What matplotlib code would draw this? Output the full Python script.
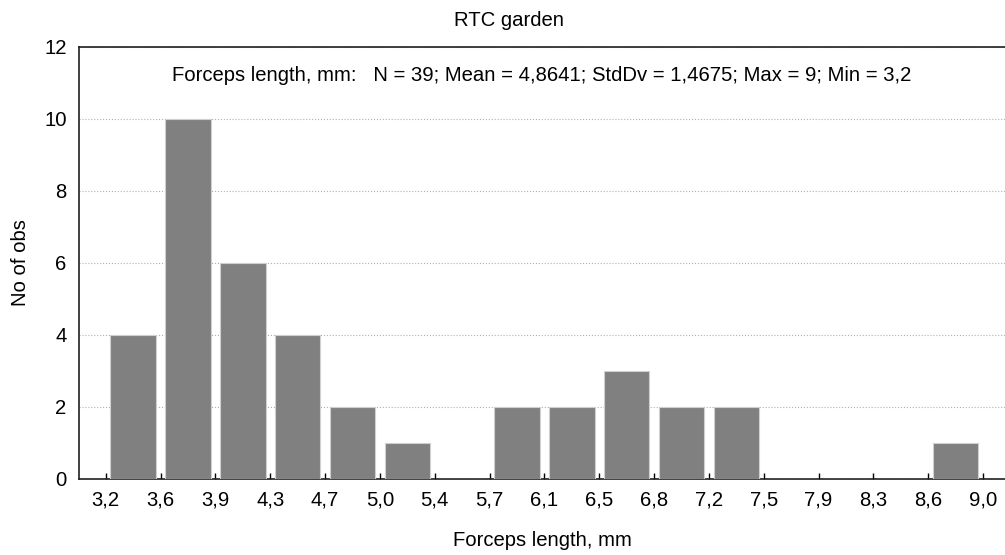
import numpy as np
import matplotlib
matplotlib.use('Agg')
from matplotlib import pyplot as plt

# bin edges (tick labels) and counts per bin
edges = ['3,2', '3,6', '3,9', '4,3', '4,7', '5,0', '5,4', '5,7', '6,1',
         '6,5', '6,8', '7,2', '7,5', '7,9', '8,3', '8,6', '9,0']
counts = [4, 10, 6, 4, 2, 1, 0, 2, 2, 3, 2, 2, 0, 0, 0, 1]
stats = 'Forceps length, mm:   N = 39; Mean = 4,8641; StdDv = 1,4675; Max = 9; Min = 3,2'

plt.rcParams['font.family'] = ['Liberation Sans', 'DejaVu Sans']
plt.rcParams['font.size'] = 14.6

fig = plt.figure(figsize=(10.05, 5.55), dpi=100)
ax = fig.add_axes([79 / 1005, 76 / 555, 926 / 1005, 432 / 555])

x = np.arange(len(counts)) + 0.5
ax.bar(x, counts, width=0.83, color='#808080', edgecolor='#d0d0d0', linewidth=0.8, zorder=3)

ax.set_xlim(-0.487, 16.4)
ax.set_ylim(0, 12)
ax.set_xticks(np.arange(len(edges)))
ax.set_xticklabels(edges)
ax.set_yticks(range(0, 13, 2))
ax.tick_params(axis='x', direction='in', length=4, pad=8, width=1)
ax.tick_params(axis='y', length=0, pad=9)
ax.yaxis.grid(True, linestyle=':', color='#b0b0b0', linewidth=0.8, zorder=0)

for s in ['left', 'bottom', 'top']:
    ax.spines[s].set_linewidth(1.2)
    ax.spines[s].set_color('#202020')
ax.spines['right'].set_visible(False)

ax.set_xlabel('Forceps length, mm', labelpad=16)
ax.set_ylabel('No of obs', labelpad=10)
fig.text(509 / 1005, 1 - 20 / 555, 'RTC garden', ha='center', va='center')
ax.text(0.5, 0.935, stats, transform=ax.transAxes, ha='center', va='center')

fig.savefig('out.png', dpi=100)
